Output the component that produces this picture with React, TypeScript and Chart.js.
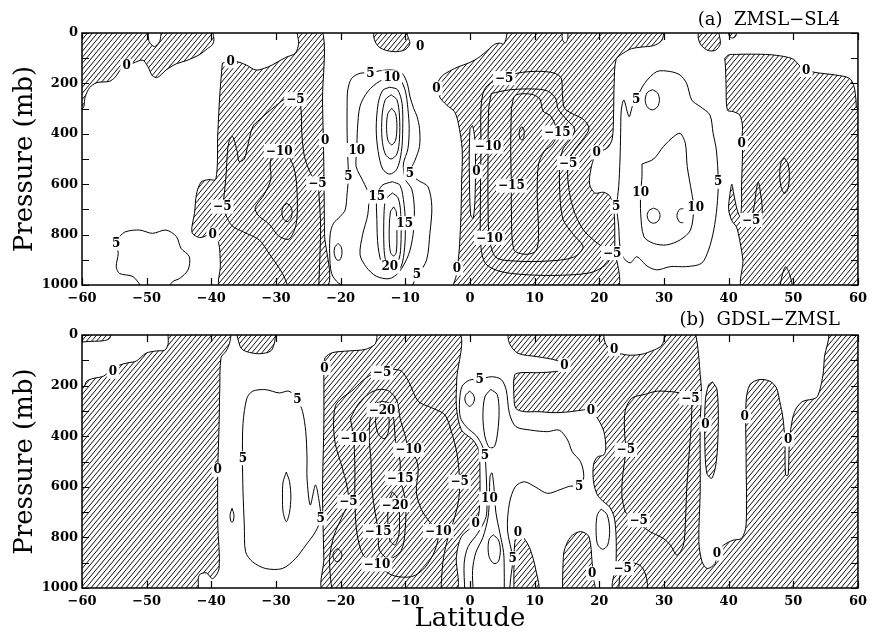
import React, { useEffect, useRef } from 'react';
import { Chart, registerables } from 'chart.js';

Chart.register(...registerables);

type Pt = [number, number];
type Lab = [number, number, string];

// ---------- axes ----------
const LAT_TICKS = [-60, -50, -40, -30, -20, -10, 0, 10, 20, 30, 40, 50, 60];
const P_LABEL_TICKS = [0, 200, 400, 600, 800, 1000];
const P_MINOR_TICKS = [0, 100, 200, 300, 400, 500, 600, 700, 800, 900, 1000];

// ================= PANEL (a) =================
// negative (hatched) regions, [latitude, pressure]
const A_NEG_1: Pt[] = [[-62,-15],[-50.1,-15],[-49.6,35],[-48.8,54],[-48.0,34],[-47.4,-15],[-40.2,-15],[-39.6,20],[-39.8,45],[-40.6,62],[-41.9,87],[-43.9,110],[-45.4,122],[-47.0,147],[-48.3,176],[-49.1,170],[-49.8,134],[-50.6,108],[-52.1,120],[-53.9,142],[-54.9,176],[-55.8,192],[-57.7,197],[-58.8,216],[-59.5,253],[-59.9,300],[-62,305],[-62,-15]];
const A_NEG_2: Pt[] = [[-38.3,120],[-37.0,110],[-35.8,115],[-34.6,127],[-33.1,147],[-31.8,140],[-30.6,127],[-28.5,97],[-27.0,80],[-26.5,41],[-26.6,-15],[-22.9,-15],[-22.8,266],[-22.6,530],[-22.5,795],[-22.4,1015],[-38.5,1015],[-38.6,920],[-38.9,830],[-40.0,800],[-41.8,812],[-43.0,790],[-42.6,715],[-42.3,640],[-41.6,592],[-40.5,582],[-39.3,580],[-39.0,400],[-38.7,250],[-38.3,120]];
const A_NEG_TOP1: Pt[] = [[-14.9,-15],[-14.8,25],[-14.1,55],[-12.8,70],[-11.2,74],[-9.9,64],[-9.3,41],[-9.6,15],[-10.0,-15],[-14.9,-15]];
const A_NEG_3: Pt[] = [[5.8,-15],[14.0,-15],[14.3,25],[14.7,40],[15.1,25],[15.4,-15],[29.9,-15],[29.9,10],[29.6,32],[28.4,50],[26.5,56],[25.0,62],[23.7,80],[22.6,105],[22.3,200],[22.2,330],[22.0,420],[21.3,455],[20.2,470],[19.3,490],[18.7,540],[18.5,600],[19.3,635],[20.7,632],[21.7,650],[22.3,716],[22.4,850],[22.5,1015],[-2.4,1015],[-2.1,960],[-1.7,874],[-1.4,729],[-1.3,597],[-1.2,464],[-1.8,358],[-2.4,312],[-3.6,286],[-4.7,253],[-5.0,200],[-4.2,168],[-2.9,148],[-1.8,134],[-0.3,120],[1.2,100],[2.8,67],[3.8,45],[4.6,40],[5.2,44],[5.6,20],[5.8,-15]];
const A_NEG_TOP2: Pt[] = [[35.4,-15],[35.3,20],[35.8,50],[36.9,70],[38.0,68],[38.7,45],[38.6,15],[38.2,-15],[35.4,-15]];
const A_NEG_TOP3: Pt[] = [[39.9,-15],[40.1,12],[40.6,20],[41.1,12],[41.2,-15],[39.9,-15]];
const A_NEG_4: Pt[] = [[39.4,100],[40.0,87],[41.2,85],[43.5,84],[46.4,86],[48.5,93],[50.0,104],[51.0,130],[52.0,147],[53.5,157],[56.6,167],[58.7,180],[59.4,213],[59.7,266],[59.9,300],[62,300],[62,1015],[42.3,1015],[42.2,900],[41.5,795],[41.2,769],[40.5,745],[40.0,700],[40.2,640],[40.5,600],[40.8,640],[41.3,700],[41.8,729],[42.0,680],[42.0,610],[42.15,464],[42.0,437],[42.15,372],[41.7,325],[40.7,312],[39.8,306],[39.6,200],[39.5,130],[39.4,100]];
// positive pocket inside a hatched area
const A_POS_SLIVER: Pt[] = [[0.0,380],[0.4,368],[0.8,440],[0.8,640],[0.5,735],[0.1,720],[-0.1,560],[-0.1,450],[0.0,380]];

// contour lines
const A_P5_W: Pt[] = [[-50.6,1015],[-52.1,967],[-54.2,954],[-54.7,927],[-54.4,874],[-54.7,835],[-54.2,808],[-53.2,788],[-51.1,782],[-49.1,795],[-47.0,782],[-45.4,808],[-44.7,854],[-43.4,888],[-43.6,940],[-44.9,974],[-46.0,987],[-46.7,1015]];
const A_P5_C: Pt[] = [[-18.3,1015],[-20.3,993],[-21.4,954],[-21.7,874],[-21.6,795],[-21.1,755],[-20.1,729],[-19.3,702],[-19.0,636],[-18.8,570],[-18.9,491],[-19.0,398],[-19.0,292],[-18.9,226],[-18.3,180],[-17.0,160],[-15.4,158],[-14.0,150],[-12.0,147],[-10.5,160],[-9.7,200],[-9.3,250],[-8.7,300],[-8.2,330],[-7.8,380],[-7.8,450],[-8.5,505],[-9.3,557],[-8.0,585],[-6.5,610],[-5.9,689],[-6.2,795],[-6.7,900],[-8.0,960],[-8.6,985],[-9.1,1015]];
const A_P10_C: Pt[] = [[-12.1,176],[-10.8,186],[-10.0,230],[-9.6,300],[-9.4,380],[-9.6,460],[-10.3,520],[-10.0,580],[-9.0,620],[-8.6,700],[-8.8,800],[-9.5,880],[-11.0,950],[-12.5,975],[-14.5,965],[-16.0,930],[-17.0,880],[-16.6,800],[-15.8,720],[-15.7,640],[-16.5,590],[-17.6,530],[-17.5,464],[-17.4,380],[-17.0,290],[-15.8,232],[-14.0,192],[-12.1,176]];
const A_P15_U: Pt[] = [[-12.4,215],[-11.2,225],[-10.5,280],[-10.4,380],[-10.6,470],[-11.3,540],[-12.4,560],[-13.5,540],[-14.2,470],[-14.5,380],[-14.2,280],[-13.5,228],[-12.4,215]];
const A_P20_U: Pt[] = [[-12.2,245],[-11.3,265],[-10.9,330],[-10.9,420],[-11.3,480],[-12.2,500],[-13.1,480],[-13.6,420],[-13.6,330],[-13.1,265],[-12.2,245]];
const A_P25_U: Pt[] = [[-12.1,299],[-11.5,320],[-11.3,370],[-11.5,425],[-12.1,444],[-12.7,425],[-12.9,370],[-12.7,320],[-12.1,299]];
const A_P15_L: Pt[] = [[-12.0,590],[-10.8,605],[-10.2,680],[-10.0,755],[-10.1,850],[-10.7,930],[-12.0,950],[-13.4,930],[-14.2,850],[-14.4,740],[-14.4,649],[-13.6,605],[-12.0,590]];
const A_P20_L: Pt[] = [[-12.0,635],[-11.1,655],[-10.7,720],[-10.7,850],[-11.1,905],[-12.2,925],[-13.0,905],[-13.3,850],[-13.3,720],[-13.0,660],[-12.0,635]];
const A_P25_L: Pt[] = [[-11.8,690],[-11.4,710],[-11.3,800],[-11.4,870],[-11.8,885],[-12.3,870],[-12.5,800],[-12.3,710],[-11.8,690]];
const A_P5_SMALL: Pt[] = [[-20.4,835],[-19.9,850],[-19.8,875],[-20.1,900],[-20.6,900],[-21.0,875],[-20.9,850],[-20.4,835]];
const A_P5_E: Pt[] = [[25.7,262],[27.0,200],[28.9,153],[31.0,153],[32.5,167],[33.5,200],[34.3,266],[35.6,292],[37.1,325],[37.6,398],[38.1,464],[38.4,590],[38.2,689],[37.7,782],[36.9,861],[35.8,914],[33.5,927],[31.0,927],[28.9,940],[27.4,925],[25.8,888],[24.8,912],[23.8,894],[23.2,848],[23.0,769],[22.7,689],[23.0,610],[23.2,504],[23.3,398],[23.4,306],[23.8,266],[24.6,332],[25.1,292],[25.7,262]];
const A_P10_E: Pt[] = [[26.6,520],[28.4,500],[29.9,451],[31.5,411],[32.5,398],[33.3,438],[33.6,530],[34.3,636],[34.6,692],[34.1,782],[32.5,821],[30.4,841],[28.4,835],[26.9,808],[26.4,716],[26.4,634],[26.6,570],[26.6,520]];
const A_P_E1: Pt[] = [[28.2,225],[29.0,237],[29.3,265],[29.0,293],[28.2,305],[27.4,293],[27.1,265],[27.4,237],[28.2,225]];
const A_P_E2: Pt[] = [[28.4,695],[29.1,704],[29.4,725],[29.1,746],[28.4,755],[27.7,746],[27.4,725],[27.7,704],[28.4,695]];
const A_P_E3: Pt[] = [[33.0,697],[32.4,700],[32.0,725],[32.4,750],[33.0,753]];
const A_N5_W: Pt[] = [[-28.0,1015],[-29.0,954],[-31.1,874],[-32.6,821],[-35.0,790],[-36.8,765],[-37.8,720],[-38.2,689],[-38.0,640],[-37.7,557],[-37.5,470],[-37.2,425],[-36.7,411],[-36.0,470],[-35.7,510],[-34.9,500],[-34.4,451],[-33.6,372],[-32.6,345],[-30.1,290],[-28.3,258],[-27.0,263],[-26.2,290],[-26.0,400],[-25.6,490],[-24.6,560],[-23.6,597],[-23.3,663],[-23.1,769],[-23.2,880],[-23.4,1015]];
const A_N10_W: Pt[] = [[-30.6,480],[-29.5,468],[-28.4,478],[-27.6,510],[-27.0,560],[-26.7,660],[-26.9,760],[-28.0,818],[-29.6,805],[-31.0,760],[-32.8,722],[-33.2,692],[-31.8,640],[-30.8,580],[-30.9,520],[-30.6,480]];
const A_N_W_SMALL: Pt[] = [[-28.3,676],[-27.7,690],[-27.5,712],[-27.7,735],[-28.3,749],[-28.9,735],[-29.1,712],[-28.9,690],[-28.3,676]];
const A_N5_C: Pt[] = [[5.3,179],[7.4,159],[10.5,152],[13.0,159],[14.1,179],[14.3,245],[14.6,298],[15.6,317],[17.6,344],[18.4,380],[17.5,420],[16.0,470],[15.2,516],[15.2,600],[16.0,700],[17.5,780],[19.5,830],[21.2,860],[22.0,873],[21.0,920],[18.5,952],[13.0,962],[8.0,958],[4.5,945],[2.4,915],[1.7,850],[1.6,700],[1.7,450],[1.7,300],[2.2,225],[3.4,195],[5.3,179]];
const A_N10_C: Pt[] = [[3.3,240],[6.0,226],[9.5,222],[12.0,230],[13.3,262],[13.6,300],[15.0,345],[16.2,380],[15.6,420],[14.4,460],[13.9,520],[13.9,640],[14.4,740],[16.0,800],[17.5,850],[16.0,890],[12.0,905],[7.0,905],[4.0,890],[3.0,813],[2.8,700],[2.8,450],[2.9,300],[3.3,240]];
const A_N15_C: Pt[] = [[6.4,300],[7.0,248],[9.5,243],[10.8,262],[11.3,310],[12.5,330],[13.5,395],[12.8,440],[11.5,470],[10.6,520],[10.4,650],[10.6,800],[10.2,865],[8.5,878],[6.8,860],[6.4,700],[6.4,606],[6.3,450],[6.4,300]];
const A_N_C_SMALL: Pt[] = [[8.0,372],[8.3,382],[8.4,398],[8.3,415],[8.0,425],[7.7,415],[7.6,398],[7.7,382],[8.0,372]];
const A_N_E1: Pt[] = [[48.6,495],[49.2,520],[49.4,570],[49.1,625],[48.6,636],[48.1,610],[47.9,560],[48.1,515],[48.6,495]];
const A_N_E2: Pt[] = [[43.5,742],[44.0,680],[44.3,620],[44.6,592],[44.9,630],[45.2,700],[44.9,750],[44.2,760],[43.5,742]];
const A_N_E3: Pt[] = [[47.9,1015],[48.3,960],[48.8,928],[49.4,955],[50.0,1015]];

const A_LABELS: Lab[] = [
  [-53.1,130,'0'],[-37.0,112,'0'],[-38.3,689,'−5'],[-39.8,800,'0'],[-54.7,835,'5'],
  [-27.0,263,'−5'],[-29.5,468,'−10'],[-22.4,425,'0'],[-23.6,597,'−5'],
  [-15.4,162,'5'],[-12.1,176,'10'],[-17.5,464,'10'],[-18.8,570,'5'],[-9.3,557,'5'],
  [-14.4,649,'15'],[-10.1,755,'15'],[-12.4,927,'20'],[-8.2,958,'5'],[-7.7,54,'0'],
  [-5.2,220,'0'],[5.3,179,'−5'],[2.8,451,'−10'],[1.0,550,'0'],[6.4,606,'−15'],
  [3.0,813,'−10'],[-2.0,934,'0'],[13.5,395,'−15'],[15.2,516,'−5'],[19.6,474,'0'],
  [22.6,689,'5'],[22.0,873,'−5'],[25.7,262,'5'],[26.4,634,'10'],[34.9,692,'10'],
  [38.4,590,'5'],[52.0,147,'0'],[42.0,437,'0'],[43.5,742,'−5'],
];

// ================= PANEL (b) =================
const B_NEG_STRIP: Pt[] = [[-62,-15],[-55.6,-15],[-55.7,12],[-56.5,22],[-58.5,25],[-62,25],[-62,-15]];
const B_NEG_1: Pt[] = [[-62,215],[-59.8,209],[-59.3,183],[-58.3,172],[-56.7,163],[-55.7,143],[-55.2,138],[-54.2,119],[-52.9,110],[-51.6,103],[-50.1,72],[-48.5,63],[-47.2,60],[-46.7,37],[-46.4,-15],[-37.2,-15],[-37.1,24],[-37.7,63],[-38.5,90],[-38.7,222],[-38.8,354],[-39.0,533],[-39.0,751],[-38.8,923],[-39.8,963],[-40.8,940],[-41.9,950],[-42.4,1015],[-62,1015],[-62,215]];
const B_NEG_TOP: Pt[] = [[-36.2,-15],[-35.9,15],[-35.4,52],[-34.5,66],[-32.6,74],[-30.8,63],[-30.2,25],[-30.3,-15],[-36.2,-15]];
const B_NEG_2: Pt[] = [[-22.6,130],[-22.4,90],[-21.3,70],[-18.8,63],[-16.2,57],[-14.7,37],[-14.4,11],[-14.2,-15],[-1.85,-15],[-2.05,178],[-2.1,283],[-1.33,375],[0.46,415],[1.33,455],[1.54,534],[1.44,692],[0.87,744],[-1.33,797],[-2.1,876],[-2.4,1015],[-22.5,1015],[-22.6,884],[-22.8,619],[-22.6,354],[-22.6,130]];
const B_NEG_3: Pt[] = [[5.8,-15],[62,-15],[62,1015],[22.5,1015],[22.6,900],[22.6,800],[22.3,720],[21.6,680],[20.7,660],[19.7,632],[19.1,579],[19.1,513],[19.7,482],[20.7,474],[21.0,447],[20.7,381],[19.7,328],[18.7,298],[17.6,296],[15.6,303],[13.0,307],[10.5,303],[8.4,303],[7.1,290],[6.8,244],[6.9,158],[7.9,149],[10.5,149],[13.0,145],[15.1,136],[14.6,119],[13.5,101],[10.5,86],[7.4,72],[6.1,33],[5.8,-15]];
const B_NEG_SPIKE: Pt[] = [[6.8,1015],[6.8,900],[6.9,830],[7.2,790],[7.9,790],[9.2,840],[10.2,930],[10.5,1015],[6.8,1015]];
const B_NEG_DOME: Pt[] = [[14.3,1015],[14.4,900],[14.6,850],[15.6,797],[17.1,777],[18.4,797],[18.9,902],[19.1,960],[19.2,1015],[14.3,1015]];
// positive pockets cut out of the big hatched area
const B_POS_TOP: Pt[] = [[20.6,-15],[20.9,30],[21.6,55],[23.0,72],[24.8,80],[26.6,76],[28.2,62],[29.5,45],[30.0,20],[29.8,-15],[20.6,-15]];
const B_POS_T: Pt[] = [[34.8,-15],[35.1,24],[35.4,90],[35.6,156],[35.8,222],[35.6,354],[35.6,619],[35.4,817],[35.9,897],[36.7,923],[37.9,903],[38.2,864],[39.2,831],[40.7,811],[42.0,804],[42.7,751],[42.7,487],[42.7,262],[43.3,196],[44.8,176],[46.4,183],[47.4,209],[47.9,262],[48.4,328],[48.7,421],[48.8,553],[49.2,553],[49.4,421],[49.9,328],[50.5,288],[51.5,262],[53.5,249],[54.05,222],[54.6,156],[54.8,90],[55.1,-15],[34.8,-15]];
const B_NEG_ISLAND: Pt[] = [[37.5,185],[38.2,215],[38.4,350],[38.1,500],[37.4,566],[36.6,545],[36.3,400],[36.4,260],[36.9,198],[37.5,185]];

const B_P5_W: Pt[] = [[-35.2,487],[-35.1,350],[-34.5,250],[-33.6,222],[-31.6,216],[-29.5,229],[-28.0,222],[-26.7,255],[-25.9,302],[-25.4,381],[-25.2,487],[-25.2,566],[-24.7,672],[-23.9,593],[-23.4,646],[-23.1,725],[-23.9,778],[-25.4,831],[-27.0,884],[-29.0,923],[-31.6,923],[-33.6,897],[-34.7,857],[-34.9,751],[-35.1,619],[-35.2,487]];
const B_P_W1: Pt[] = [[-28.4,542],[-27.9,580],[-27.7,640],[-27.9,700],[-28.4,738],[-28.9,700],[-29.0,640],[-28.9,580],[-28.4,542]];
const B_P_W2: Pt[] = [[-36.8,685],[-36.5,710],[-36.6,735],[-36.8,740],[-37.0,735],[-37.1,710],[-36.8,685]];
const B_N5_C: Pt[] = [[-21.3,1015],[-21.6,950],[-21.7,880],[-21.0,790],[-19.8,720],[-18.8,659],[-19.0,600],[-19.8,520],[-20.8,434],[-21.1,354],[-20.8,280],[-19.8,249],[-18.3,222],[-16.7,183],[-15.2,156],[-13.6,149],[-12.1,136],[-10.6,143],[-9.5,183],[-8.0,262],[-5.9,288],[-3.9,315],[-2.9,380],[-2.0,470],[-1.6,580],[-1.8,660],[-2.6,740],[-3.6,820],[-4.2,900],[-4.5,1015]];
const B_N10_C: Pt[] = [[-18.5,330],[-17.2,270],[-15.5,230],[-14.0,215],[-12.5,222],[-11.3,260],[-10.8,330],[-10.0,400],[-9.5,454],[-8.5,480],[-8.0,530],[-8.3,620],[-7.5,690],[-6.2,740],[-4.9,775],[-5.4,850],[-7.0,920],[-9.0,955],[-12.0,950],[-14.4,907],[-16.5,870],[-17.5,780],[-17.8,650],[-17.8,520],[-18.0,407],[-18.5,330]];
const B_N10_SMALL: Pt[] = [[-20.5,844],[-20.0,855],[-19.8,870],[-20.0,888],[-20.5,896],[-21.0,888],[-21.2,870],[-21.0,855],[-20.5,844]];
const B_N15_C: Pt[] = [[-13.6,262],[-12.3,272],[-11.8,330],[-11.5,420],[-10.8,500],[-10.8,566],[-10.0,650],[-10.0,760],[-10.6,850],[-12.5,885],[-14.0,850],[-14.2,775],[-14.8,680],[-15.2,600],[-15.3,500],[-15.6,400],[-15.3,310],[-14.6,272],[-13.6,262]];
const B_N20_U: Pt[] = [[-13.6,290],[-12.8,300],[-12.5,340],[-12.7,390],[-13.3,410],[-14.2,390],[-14.6,340],[-14.3,300],[-13.6,290]];
const B_N20_L: Pt[] = [[-12.0,620],[-11.1,650],[-10.9,720],[-11.0,790],[-11.6,830],[-12.4,810],[-12.7,740],[-12.6,660],[-12.0,620]];
const B_P5_C: Pt[] = [[-0.8,1015],[-0.9,902],[-0.3,837],[1.2,784],[2.5,718],[2.6,639],[2.5,547],[2.3,474],[1.85,435],[1.0,399],[-0.6,362],[-1.5,325],[-1.6,257],[-1.2,202],[-0.05,178],[1.5,175],[3.3,165],[4.8,175],[5.6,217],[6.1,310],[7.1,362],[9.4,376],[12.0,382],[13.8,376],[15.1,415],[15.8,461],[17.1,501],[17.6,560],[16.9,600],[15.6,597],[14.05,610],[12.0,626],[10.2,602],[8.4,580],[7.0,600],[6.1,665],[5.8,771],[6.6,883],[6.3,960],[6.1,1015]];
const B_P10_C: Pt[] = [[3.2,215],[4.2,235],[4.5,300],[4.3,380],[3.8,440],[3.0,445],[2.3,400],[2.0,320],[2.3,245],[3.2,215]];
const B_P_C_SMALL: Pt[] = [[-0.05,222],[0.5,235],[0.7,252],[0.5,270],[-0.05,282],[-0.6,270],[-0.8,252],[-0.6,235],[-0.05,222]];
const B_P10_B: Pt[] = [[0.5,1015],[0.4,930],[0.9,860],[2.0,800],[2.8,720],[3.0,646],[3.1,560],[3.4,545],[3.7,600],[4.0,700],[4.6,780],[5.2,860],[5.3,940],[5.3,1015]];
const B_P15_B: Pt[] = [[3.6,790],[4.4,810],[4.7,850],[4.4,895],[3.7,903],[3.0,880],[2.8,840],[3.0,805],[3.6,790]];
const B_P5_R: Pt[] = [[20.3,688],[21.2,710],[21.6,770],[21.3,830],[20.5,847],[19.7,825],[19.5,760],[19.7,710],[20.3,688]];
const B_N5_R: Pt[] = [[24.0,700],[23.5,640],[23.6,560],[24.1,454],[23.9,380],[24.0,300],[25.0,250],[27.0,235],[29.0,222],[32.5,229],[34.1,249],[34.3,300],[34.1,400],[33.8,500],[33.5,620],[33.3,750],[33.0,831],[32.0,870],[31.0,831],[29.9,804],[27.9,778],[26.4,751],[25.3,725],[24.0,700]];
const B_N5_R2: Pt[] = [[23.0,1015],[23.2,950],[23.8,915],[25.0,900],[26.5,915],[27.3,960],[27.5,1015]];

const B_LABELS: Lab[] = [
  [-55.2,145,'0'],[-39.0,533,'0'],[-35.1,487,'5'],[-26.7,255,'5'],[-23.1,725,'5'],
  [-22.5,130,'0'],[-13.6,149,'−5'],[-13.6,296,'−20'],[-18.0,407,'−10'],[-9.5,454,'−10'],
  [-10.8,566,'−15'],[-18.8,659,'−5'],[-11.6,672,'−20'],[-14.2,775,'−15'],[-4.9,775,'−10'],
  [-14.4,907,'−10'],[-1.6,580,'−5'],[1.5,175,'5'],[2.3,474,'5'],[3.0,646,'10'],
  [0.87,744,'0'],[6.6,883,'5'],[7.4,780,'0'],[14.6,119,'0'],[18.7,296,'0'],
  [16.9,600,'5'],[22.3,55,'0'],[18.9,942,'0'],[24.1,454,'−5'],[26.1,732,'−5'],
  [23.6,922,'−5'],[34.1,249,'−5'],[36.4,354,'0'],[42.5,321,'0'],[49.2,413,'0'],
  [38.2,864,'0'],
];

interface PanelDef {
  title: string;
  hatch: Pt[][];
  holes: Pt[][];
  islands: Pt[][];
  lines: Pt[][];
  labels: Lab[];
}

const PANEL_A: PanelDef = {
  title: '(a)  ZMSL\u2212SL4',
  hatch: [A_NEG_1, A_NEG_2, A_NEG_TOP1, A_NEG_3, A_NEG_TOP2, A_NEG_TOP3, A_NEG_4],
  holes: [A_POS_SLIVER],
  islands: [],
  lines: [A_P5_W, A_P5_C, A_P10_C, A_P15_U, A_P20_U, A_P25_U, A_P15_L, A_P20_L, A_P25_L, A_P5_SMALL,
    A_P5_E, A_P10_E, A_P_E1, A_P_E2, A_P_E3, A_N5_W, A_N10_W, A_N_W_SMALL, A_N5_C, A_N10_C, A_N15_C,
    A_N_C_SMALL, A_N_E1, A_N_E2, A_N_E3],
  labels: A_LABELS,
};

const PANEL_B: PanelDef = {
  title: '(b)  GDSL\u2212ZMSL',
  hatch: [B_NEG_STRIP, B_NEG_1, B_NEG_TOP, B_NEG_2, B_NEG_3, B_NEG_SPIKE, B_NEG_DOME],
  holes: [B_POS_TOP, B_POS_T],
  islands: [B_NEG_ISLAND],
  lines: [B_P5_W, B_P_W1, B_P_W2, B_N5_C, B_N10_C, B_N10_SMALL, B_N15_C, B_N20_U, B_N20_L, B_P5_C,
    B_P10_C, B_P_C_SMALL, B_P10_B, B_P15_B, B_P5_R, B_N5_R, B_N5_R2],
  labels: B_LABELS,
};

const SERIF = '"DejaVu Serif", "Liberation Serif", serif';
const fmt = (v: number) => (v < 0 ? '\u2212' + Math.abs(v) : String(v));

function makeHatch(): CanvasPattern | string {
  const c = document.createElement('canvas');
  const w = 5, h = 6;
  c.width = w; c.height = h;
  const g = c.getContext('2d');
  if (!g) return '#888';
  g.strokeStyle = '#111';
  g.lineWidth = 1;
  g.beginPath();
  for (let k = -1; k <= 1; k++) {
    g.moveTo(k * w, h);
    g.lineTo(k * w + w, 0);
  }
  g.stroke();
  const ctx = document.createElement('canvas').getContext('2d');
  return (ctx && ctx.createPattern(c, 'repeat')) || '#888';
}

const overlay = {
  id: 'overlay',
  afterDatasetsDraw(chart: any, _args: any, opts: any) {
    const { ctx, chartArea: a, scales } = chart;
    const x = scales.x, y = scales.y;
    ctx.save();
    // contour labels
    ctx.font = 'bold 12px ' + SERIF;
    ctx.textAlign = 'center';
    ctx.textBaseline = 'middle';
    for (const [lat, p, t] of opts.labels as Lab[]) {
      const px = x.getPixelForValue(lat);
      const py = y.getPixelForValue(p);
      const w = ctx.measureText(t).width;
      ctx.fillStyle = '#fff';
      ctx.fillRect(px - w / 2 - 2, py - 7, w + 4, 14);
      ctx.fillStyle = '#000';
      ctx.fillText(t, px, py + 0.5);
    }
    // frame
    ctx.strokeStyle = '#000';
    ctx.lineWidth = 1.5;
    ctx.strokeRect(a.left, a.top, a.right - a.left, a.bottom - a.top);
    // inward ticks
    ctx.lineWidth = 1.2;
    ctx.beginPath();
    for (const v of LAT_TICKS) {
      const px = Math.round(x.getPixelForValue(v)) + 0.5;
      ctx.moveTo(px, a.top); ctx.lineTo(px, a.top + 7);
      ctx.moveTo(px, a.bottom); ctx.lineTo(px, a.bottom - 7);
    }
    for (const v of P_MINOR_TICKS) {
      const py = Math.round(y.getPixelForValue(v)) + 0.5;
      ctx.moveTo(a.left, py); ctx.lineTo(a.left + 7, py);
      ctx.moveTo(a.right, py); ctx.lineTo(a.right - 7, py);
    }
    ctx.stroke();
    // panel title
    ctx.font = '18px ' + SERIF;
    ctx.textAlign = 'right';
    ctx.textBaseline = 'alphabetic';
    ctx.fillStyle = '#000';
    ctx.fillText(opts.title, a.right - 18, a.top - opts.titleGap);
    ctx.restore();
  },
};

function buildChart(canvas: HTMLCanvasElement, panel: PanelDef, padTop: number, xHeight: number,
  xTitle: boolean, titleGap: number, pattern: CanvasPattern | string) {
  const datasets: any[] = [];
  const add = (pts: Pt[], kind: 'hatch' | 'hole' | 'line') => {
    const i = datasets.length;
    datasets.push({
      data: pts.map(([lx, ly]) => ({ x: lx, y: ly })),
      borderColor: '#000',
      borderWidth: 1,
      backgroundColor: kind === 'hatch' ? pattern : kind === 'hole' ? '#ffffff' : 'rgba(0,0,0,0)',
      fill: kind === 'line' ? false : 'shape',
      tension: 0.3,
      pointRadius: 0,
      pointHoverRadius: 0,
      pointHitRadius: 0,
      order: -i,
      clip: 0,
    });
  };
  panel.hatch.forEach((p) => add(p, 'hatch'));
  panel.holes.forEach((p) => add(p, 'hole'));
  panel.islands.forEach((p) => add(p, 'hatch'));
  panel.lines.forEach((p) => add(p, 'line'));

  return new Chart(canvas, {
    type: 'line',
    data: { datasets },
    plugins: [overlay],
    options: {
      animation: false,
      responsive: false,
      events: [],
      layout: { padding: { top: padTop, right: 11, left: 0, bottom: 0 } },
      elements: { line: { capBezierPoints: false } },
      plugins: {
        legend: { display: false },
        tooltip: { enabled: false },
        overlay: { labels: panel.labels, title: panel.title, titleGap },
      } as any,
      scales: {
        x: {
          type: 'linear',
          min: -60,
          max: 60,
          afterBuildTicks: (s: any) => { s.ticks = LAT_TICKS.map((v) => ({ value: v })); },
          afterFit: (s: any) => { s.height = xHeight; },
          grid: { display: false, drawTicks: false },
          border: { display: false },
          ticks: {
            padding: 6, color: '#000', maxRotation: 0, autoSkip: false,
            font: { family: SERIF, size: 13, weight: 'bold' },
            callback: (v: any) => fmt(Number(v)),
          },
          title: {
            display: xTitle, text: 'Latitude', color: '#000',
            font: { family: SERIF, size: 26, lineHeight: 1 }, padding: { top: 0, bottom: 0 },
          },
        },
        y: {
          type: 'linear',
          min: 0,
          max: 1000,
          reverse: true,
          afterBuildTicks: (s: any) => { s.ticks = P_LABEL_TICKS.map((v) => ({ value: v })); },
          afterFit: (s: any) => { s.width = 82; },
          grid: { display: false, drawTicks: false },
          border: { display: false },
          ticks: {
            padding: 4, color: '#000', autoSkip: false,
            font: { family: SERIF, size: 13, weight: 'bold' },
            callback: (v: any) => String(v),
          },
          title: {
            display: true, text: 'Pressure (mb)', color: '#000',
            font: { family: SERIF, size: 26, lineHeight: 1 }, padding: { top: 12, bottom: 0 },
          },
        },
      },
    } as any,
  });
}

export default function App() {
  const refA = useRef<HTMLCanvasElement>(null);
  const refB = useRef<HTMLCanvasElement>(null);

  useEffect(() => {
    if (!refA.current || !refB.current) return;
    const pattern = makeHatch();
    const ca = buildChart(refA.current, PANEL_A, 33, 22, false, 8, pattern);
    const cb = buildChart(refB.current, PANEL_B, 28, 44, true, 10, pattern);
    return () => { ca.destroy(); cb.destroy(); };
  }, []);

  return (
    <div style={{ position: 'absolute', left: 0, top: 0, width: 873, height: 632, background: '#fff' }}>
      <canvas ref={refA} width={873} height={307} style={{ display: 'block' }} />
      <canvas ref={refB} width={873} height={325} style={{ display: 'block' }} />
    </div>
  );
}
